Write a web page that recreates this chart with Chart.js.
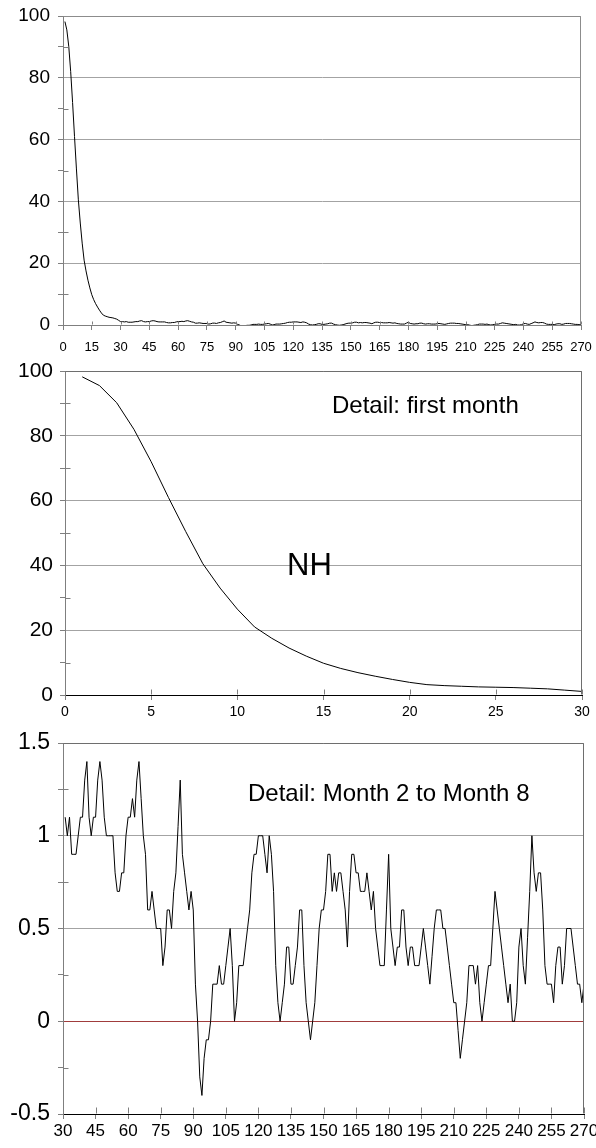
<!DOCTYPE html>
<html>
<head>
<meta charset="utf-8">
<script src="https://cdn.jsdelivr.net/npm/chart.js@4.4.0/dist/chart.umd.min.js"></script>
<style>
  body { margin: 0; background: #fff; width: 596px; height: 1148px; position: relative; overflow: hidden; }
  canvas { position: absolute; left: 0; }
  .note { position: absolute; font-family: "Liberation Sans", Arial, sans-serif; color: #000; line-height: 1; white-space: nowrap; }
</style>
</head>
<body>
<canvas id="chartAll" width="596" height="356" style="top:0"></canvas>
<canvas id="chartMonth" width="596" height="372" style="top:356px"></canvas>
<canvas id="chartLater" width="596" height="420" style="top:728px"></canvas>
<div class="note" style="left:332px;top:393px;font-size:24px">Detail: first month</div>
<div class="note" style="left:287px;top:549px;font-size:31px">NH</div>
<div class="note" style="left:248px;top:781px;font-size:24px">Detail: Month 2 to Month 8</div>
<script>
// days 1..30
var firstMonth = [98.2, 95.5, 90.2, 82, 72, 61, 50.5, 40.5, 33, 26.5,
  21, 17.5, 14.5, 12, 9.8, 8.2, 6.9, 5.8, 4.8, 3.9,
  3.2, 2.9, 2.7, 2.5, 2.4, 2.3, 2.1, 1.9, 1.5, 1.1];

// days 31..270
var laterMonths = [
  1.1, 1.0, 1.1, 0.9, 0.9, 0.9, 1.0, 1.1, 1.1, 1.3,
  1.4, 1.1, 1.0, 1.1, 1.1, 1.3, 1.4, 1.3, 1.1, 1.0,
  1.0, 1.0, 1.0, 0.8, 0.7, 0.7, 0.8, 0.8, 1.0, 1.1,
  1.1, 1.2, 1.1, 1.3, 1.4, 1.2, 1.0, 0.9, 0.6, 0.6,
  0.7, 0.6, 0.5, 0.5, 0.5, 0.3, 0.4, 0.6, 0.6, 0.5,
  0.7, 0.8, 1.05, 1.3, 0.9, 0.8, 0.7, 0.6, 0.7, 0.6,
  0.2, 0.0, -0.3, -0.4, -0.2, -0.1, -0.1, 0.0, 0.2, 0.2,
  0.2, 0.3, 0.2, 0.2, 0.3, 0.4, 0.5, 0.3, 0.0, 0.1,
  0.3, 0.3, 0.3, 0.4, 0.5, 0.6, 0.8, 0.9, 0.9, 1.0,
  1.0, 1.0, 0.9, 0.8, 1.0, 0.9, 0.7, 0.3, 0.1, 0.0,
  0.1, 0.2, 0.4, 0.4, 0.2, 0.2, 0.3, 0.4, 0.6, 0.6,
  0.3, 0.1, 0.0, -0.1, 0.0, 0.1, 0.3, 0.5, 0.6, 0.6,
  0.7, 0.9, 0.9, 0.7, 0.8, 0.7, 0.8, 0.8, 0.7, 0.6,
  0.4, 0.7, 0.9, 0.9, 0.8, 0.8, 0.7, 0.7, 0.7, 0.8,
  0.7, 0.6, 0.7, 0.5, 0.4, 0.3, 0.3, 0.3, 0.6, 0.9,
  0.5, 0.4, 0.3, 0.4, 0.4, 0.6, 0.6, 0.4, 0.3, 0.4,
  0.4, 0.3, 0.3, 0.3, 0.4, 0.5, 0.4, 0.3, 0.2, 0.35,
  0.5, 0.6, 0.6, 0.6, 0.5, 0.5, 0.4, 0.3, 0.2, 0.1,
  0.1, -0.05, -0.2, -0.1, 0.0, 0.1, 0.3, 0.3, 0.3, 0.2,
  0.3, 0.1, 0.0, 0.1, 0.2, 0.3, 0.3, 0.5, 0.7, 0.6,
  0.5, 0.4, 0.3, 0.2, 0.1, 0.2, 0.0, 0.0, 0.1, 0.4,
  0.5, 0.3, 0.2, 0.45, 0.7, 1.0, 0.8, 0.7, 0.8, 0.8,
  0.6, 0.3, 0.2, 0.2, 0.2, 0.1, 0.3, 0.4, 0.4, 0.2,
  0.3, 0.5, 0.5, 0.5, 0.4, 0.3, 0.2, 0.2, 0.1, 0.2
];

var allDaysX = [0, 270, 15];      // min, max, step
var monthX = [0, 30, 5];
var laterX = [30, 270, 15];
var pctY = [0, 100, 10, 20];      // min, max, tick step, labelled step
var laterY = [-0.5, 1.5, 0.25, 0.5];

var FONT = '"Liberation Sans", Arial, sans-serif';
var GRID = '#a3a3a3';
var AXIS = '#7f7f7f';

function points(values, firstDay) {
  return values.map(function(v, i) { return { x: firstDay + i, y: v }; });
}

function onStep(v, step) {
  return Math.abs(v / step - Math.round(v / step)) < 1e-9;
}

// top + right frame, zero line, and the inner half of tick marks
var frame = {
  id: 'frame',
  beforeDatasetsDraw: function(chart, args, opts) {
    if (!opts.zeroColor) return;
    var ctx = chart.ctx, a = chart.chartArea;
    var py = Math.round(chart.scales.y.getPixelForValue(0)) + 0.5;
    ctx.save();
    ctx.lineWidth = 1;
    ctx.strokeStyle = opts.zeroColor;
    ctx.beginPath();
    ctx.moveTo(a.left + 1, py); ctx.lineTo(a.right, py);
    ctx.stroke();
    ctx.restore();
  },
  afterDraw: function(chart, args, opts) {
    var ctx = chart.ctx, a = chart.chartArea;
    var L = Math.round(a.left) + 0.5, R = Math.round(a.right) - 0.5;
    var T = Math.round(a.top) + 0.5, B = Math.round(a.bottom) - 0.5;
    ctx.save();
    ctx.lineWidth = 1;
    ctx.strokeStyle = opts.color;
    ctx.beginPath();
    ctx.moveTo(L, T); ctx.lineTo(R, T); ctx.lineTo(R, B);
    ctx.stroke();
    ctx.strokeStyle = AXIS;
    ctx.beginPath();
    chart.scales.x.ticks.forEach(function(t) {
      var px = Math.round(chart.scales.x.getPixelForValue(t.value)) + 0.5;
      ctx.moveTo(px, B); ctx.lineTo(px, B - opts.xIn);
    });
    chart.scales.y.ticks.forEach(function(t) {
      if (t.label !== '') return;
      var py = Math.round(chart.scales.y.getPixelForValue(t.value)) + 0.5;
      ctx.moveTo(L, py); ctx.lineTo(L + 5, py);
    });
    ctx.stroke();
    ctx.restore();
  }
};

function makeChart(id, data, xr, yr, o) {
  return new Chart(document.getElementById(id), {
    type: 'line',
    data: { datasets: [{ data: data, borderColor: '#000', borderWidth: 1, pointRadius: 0, tension: 0, fill: false }] },
    plugins: [frame],
    options: {
      responsive: false, animation: false, devicePixelRatio: 1,
      layout: { padding: { left: 0, right: o.right, top: o.top, bottom: 0 } },
      plugins: { legend: { display: false }, tooltip: { enabled: false },
        frame: { color: o.frameColor, xIn: o.xIn, zeroColor: o.zeroColor } },
      scales: {
        x: {
          type: 'linear', min: xr[0], max: xr[1],
          ticks: { stepSize: xr[2], autoSkip: false, maxRotation: 0, color: '#000',
            padding: o.xPad, font: { family: FONT, size: o.xFont } },
          grid: { drawOnChartArea: false, drawTicks: true, tickLength: 5, tickColor: AXIS },
          border: { color: o.xAxisColor, width: 1 },
          afterFit: function(s) { s.height = o.xH; s.paddingLeft = 0; s.paddingRight = 0; }
        },
        y: {
          min: yr[0], max: yr[1],
          ticks: { stepSize: yr[2], autoSkip: false, color: '#000', padding: o.yPad,
            font: { family: FONT, size: o.yFont },
            callback: function(v) {
              if (!onStep(v, yr[3])) return '';
              return String(Math.round(v * 100) / 100);
            } },
          grid: {
            tickLength: 5, tickColor: AXIS,
            color: function(c) {
              var v = c.tick ? c.tick.value : null;
              if (v === null || !onStep(v, yr[3])) return 'transparent';
              if (Math.abs(v) < 1e-9 && o.zeroColor) return 'transparent';
              if (Math.abs(v - yr[0]) < 1e-9) return 'transparent';
              return GRID;
            }
          },
          border: { color: AXIS, width: 1 },
          afterFit: function(s) { s.width = o.yW; s.paddingTop = 0; s.paddingBottom = 0; }
        }
      }
    }
  });
}

makeChart('chartAll', points(firstMonth.concat(laterMonths), 1), allDaysX, pctY,
  { right: 15, top: 16, xH: 31, yW: 63, xPad: 10, yPad: 8, xFont: 13, yFont: 19,
    xAxisColor: AXIS, frameColor: '#8c8c8c', xIn: 3 });

makeChart('chartMonth', points(firstMonth, 1), monthX, pctY,
  { right: 14, top: 15, xH: 33, yW: 65, xPad: 4, yPad: 7, xFont: 14, yFont: 21,
    xAxisColor: '#000', frameColor: '#6e6e6e', xIn: 5 });

makeChart('chartLater', points(laterMonths, 31), laterX, laterY,
  { right: 12, top: 15, xH: 34, yW: 63, xPad: 2, yPad: 8, xFont: 17, yFont: 23,
    xAxisColor: '#000', frameColor: '#6e6e6e', xIn: 6, zeroColor: '#a03c3c' });
</script>
</body>
</html>
